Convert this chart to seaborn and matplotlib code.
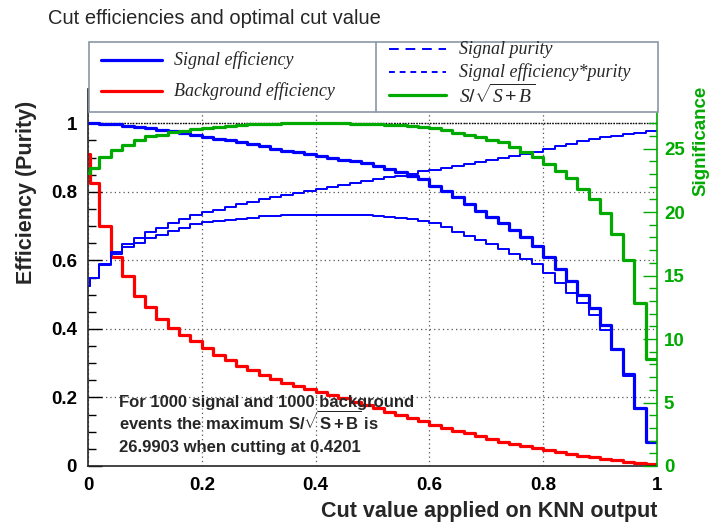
import numpy as np
import pandas as pd
import matplotlib
matplotlib.use("Agg")
import matplotlib.pyplot as plt
import seaborn as sns
from matplotlib.lines import Line2D
from matplotlib.patches import Rectangle
from matplotlib.ticker import MultipleLocator, FuncFormatter

# ---------------- data ----------------
cut_edges = [0.0, 0.004] + [round(0.02 * i, 2) for i in range(1, 51)]

sig_eff = [1.000, 1.000, 0.999, 0.997, 0.993, 0.989, 0.985, 0.981, 0.977, 0.971,
           0.966, 0.961, 0.955, 0.950, 0.944, 0.939, 0.933, 0.926, 0.920, 0.915,
           0.910, 0.905, 0.899, 0.894, 0.890, 0.883, 0.876, 0.866, 0.857, 0.847,
           0.838, 0.818, 0.802, 0.785, 0.765, 0.745, 0.727, 0.710, 0.690, 0.668,
           0.641, 0.609, 0.576, 0.541, 0.500, 0.461, 0.412, 0.341, 0.269, 0.169,
           0.071]

bkg_eff = [0.909, 0.827, 0.699, 0.611, 0.553, 0.497, 0.463, 0.429, 0.404, 0.381,
           0.364, 0.344, 0.325, 0.310, 0.293, 0.279, 0.266, 0.255, 0.242, 0.232,
           0.224, 0.217, 0.208, 0.198, 0.188, 0.179, 0.169, 0.159, 0.149, 0.140,
           0.130, 0.120, 0.110, 0.103, 0.096, 0.088, 0.078, 0.071, 0.064, 0.058,
           0.052, 0.046, 0.040, 0.035, 0.030, 0.025, 0.021, 0.017, 0.013, 0.009,
           0.005]

purity = [0.525, 0.549, 0.588, 0.625, 0.648, 0.666, 0.683, 0.695, 0.709, 0.720,
          0.731, 0.741, 0.748, 0.756, 0.763, 0.771, 0.779, 0.785, 0.791, 0.797,
          0.802, 0.808, 0.813, 0.820, 0.826, 0.831, 0.837, 0.842, 0.847, 0.853,
          0.860, 0.864, 0.870, 0.876, 0.881, 0.887, 0.893, 0.898, 0.905, 0.910,
          0.917, 0.925, 0.933, 0.940, 0.947, 0.955, 0.960, 0.963, 0.968, 0.973,
          0.976]

eff_purity = [0.525, 0.549, 0.587, 0.618, 0.639, 0.651, 0.664, 0.675, 0.687, 0.695,
              0.705, 0.711, 0.715, 0.719, 0.722, 0.725, 0.728, 0.729, 0.731, 0.732,
              0.733, 0.733, 0.733, 0.733, 0.733, 0.732, 0.730, 0.727, 0.724, 0.720,
              0.716, 0.709, 0.697, 0.684, 0.672, 0.660, 0.648, 0.634, 0.620, 0.604,
              0.588, 0.564, 0.535, 0.506, 0.477, 0.442, 0.398, 0.339, 0.263, 0.165,
              0.069]

significance = [23.1, 23.5, 24.3, 24.9, 25.3, 25.7, 25.95, 26.1, 26.3, 26.4,
                26.5, 26.6, 26.7, 26.8, 26.85, 26.9, 26.95, 26.97, 26.98, 26.98,
                26.98, 26.98, 26.99, 26.98, 26.97, 26.95, 26.92, 26.87, 26.82, 26.75,
                26.68, 26.6, 26.45, 26.2, 26.05, 25.9, 25.7, 25.5, 25.1, 24.7,
                24.3, 23.8, 23.2, 22.7, 21.8, 21.0, 19.9, 18.3, 16.2, 12.85,
                8.42]

n_signal = 1000
n_background = 1000
best_significance = 26.9903
best_cut = 0.4201

x_ticks = [0, 0.2, 0.4, 0.6, 0.8, 1]
y_ticks = [0, 0.2, 0.4, 0.6, 0.8, 1]
sig_ticks = [0, 5, 10, 15, 20, 25]

# ---------------- style ----------------
sns.set_style("white")
plt.rcParams['font.family'] = ['Liberation Sans', 'DejaVu Sans']
plt.rcParams['mathtext.fontset'] = 'custom'
plt.rcParams['mathtext.it'] = 'Liberation Serif:italic'
plt.rcParams['mathtext.rm'] = 'Liberation Sans'
plt.rcParams['mathtext.bf'] = 'Liberation Sans:bold'

BLUE = '#0000ff'
RED = '#ff0000'
GREEN = '#00aa00'

W, H = 714, 529
fig = plt.figure(figsize=(W / 100, H / 100), dpi=100)


def fx(x):
    return x / W


def fy(y):
    return 1 - y / H


ax_l, ax_r, ax_b, ax_t = 88, 657, 466, 89
ax = fig.add_axes([fx(ax_l), fy(ax_b), fx(ax_r - ax_l), (ax_b - ax_t) / H])
ax2 = ax.twinx()


def steps(vals):
    return pd.DataFrame({"cut": cut_edges, "value": list(vals) + [vals[-1]]})


common = dict(x="cut", y="value", drawstyle="steps-post", estimator=None, sort=False)
sns.lineplot(data=steps(sig_eff), ax=ax, color=BLUE, lw=2.3, **common)
sns.lineplot(data=steps(bkg_eff), ax=ax, color=RED, lw=2.3, **common)
sns.lineplot(data=steps(purity), ax=ax, color=BLUE, lw=1.4, **common)
sns.lineplot(data=steps(eff_purity), ax=ax, color=BLUE, lw=1.4, **common)
sns.lineplot(data=steps(significance), ax=ax2, color=GREEN, lw=2.3, **common)

ax.set_xlim(0, 1)
ax.set_ylim(0, 1.1)
ax2.set_ylim(0, 1.1 * max(significance))

fmt = FuncFormatter(lambda v, p: f"{v:g}")
ax.set_xticks(x_ticks)
ax.set_yticks(y_ticks)
ax.xaxis.set_major_formatter(fmt)
ax.yaxis.set_major_formatter(fmt)
ax.xaxis.set_minor_locator(MultipleLocator(0.05))
ax.yaxis.set_minor_locator(MultipleLocator(0.05))
ax2.set_yticks(sig_ticks)
ax2.yaxis.set_major_formatter(fmt)
ax2.yaxis.set_minor_locator(MultipleLocator(1))

for lab in ax.get_xticklabels() + ax.get_yticklabels():
    lab.set_fontsize(13.5)
    lab.set_fontweight('bold')
for lab in ax2.get_yticklabels():
    lab.set_fontsize(13.5)
    lab.set_fontweight('bold')

ax.tick_params(axis='both', which='both', direction='in', top=False, right=False,
               colors='black', width=1)
ax.tick_params(axis='x', which='major', length=9, pad=8)
ax.tick_params(axis='x', which='minor', length=5)
ax.tick_params(axis='y', which='major', length=10, pad=8)
ax.tick_params(axis='y', which='minor', length=6)
ax2.tick_params(axis='y', which='both', direction='in', colors=GREEN, width=1)
ax2.tick_params(axis='y', which='major', length=10, pad=5)
ax2.tick_params(axis='y', which='minor', length=6)

for s in ['top', 'right']:
    ax.spines[s].set_visible(False)
for s in ['top', 'left', 'bottom']:
    ax2.spines[s].set_visible(False)
ax2.spines['right'].set_color(GREEN)
ax2.spines['right'].set_linewidth(1.2)
ax.spines['left'].set_linewidth(1.2)
ax.spines['bottom'].set_linewidth(1.2)

ax.grid(True, which='major', axis='both', color='#555555', linestyle=(0, (1, 2.5)), lw=0.9)
ax.axhline(1.0, color='black', linestyle=(0, (1, 1)), lw=1.0, zorder=1)
ax2.grid(False)

ax.set_xlabel("Cut value applied on KNN output", loc='right', fontsize=15.5,
              fontweight='bold')
ax.xaxis.set_label_coords(1.0, (ax_b - 501) / (ax_b - ax_t))
ax.set_ylabel("Efficiency (Purity)", loc='top', fontsize=15.5, fontweight='bold')
ax.yaxis.set_label_coords((37 - ax_l) / (ax_r - ax_l), (ax_b - 101) / (ax_b - ax_t))
ax2.set_ylabel("Significance", loc='top', fontsize=13.5, fontweight='bold',
               color=GREEN, rotation=90)
ax2.yaxis.set_label_coords((692 - ax_l) / (ax_r - ax_l), (ax_b - 86) / (ax_b - ax_t))

# title
fig.text(fx(48), fy(18), "Cut efficiencies and optimal cut value", fontsize=14.5,
         ha='left', va='center')

# annotation
ann = dict(fontsize=12, fontweight='bold', ha='left', va='baseline', transform=fig.transFigure)
fig.text(fx(119), fy(407), f"For {n_signal} signal and {n_background} background", **ann)
fig.text(fx(119), fy(430), r"events the maximum S/$\sqrt{\mathbf{S+B}}$ is", **ann)
fig.text(fx(119), fy(452), f"{best_significance:.4f} when cutting at {best_cut:.4f}", **ann)

# legend box (two cells)
box = Rectangle((fx(89), fy(112)), fx(658 - 89), (112 - 42) / H, transform=fig.transFigure,
                facecolor='white', edgecolor='#8a97a6', lw=1.2, zorder=5)
fig.add_artist(box)
fig.add_artist(Line2D([fx(376), fx(376)], [fy(112), fy(42)], transform=fig.transFigure,
                      color='#8a97a6', lw=1.2, zorder=6))

leg_font = dict(fontsize=13, fontstyle='italic', family='Liberation Serif', ha='left',
                va='center', zorder=7)
left_entries = [("Signal efficiency", BLUE, '-', 2.3, 60),
                ("Background efficiency", RED, '-', 2.3, 91)]
right_entries = [("Signal purity", BLUE, (0, (5, 3.5)), 1.4, 49),
                 ("Signal efficiency*purity", BLUE, (0, (3, 2.5)), 1.4, 72),
                 (r"$\mathit{S/}\sqrt{\mathit{S+B}}$", GREEN, '-', 2.3, 95)]
for text, col, ls, lw, yy in left_entries:
    fig.add_artist(Line2D([fx(101), fx(162)], [fy(yy), fy(yy)], transform=fig.transFigure,
                          color=col, ls=ls, lw=lw, zorder=7))
    fig.text(fx(174), fy(yy), text, **leg_font)
for text, col, ls, lw, yy in right_entries:
    fig.add_artist(Line2D([fx(389), fx(446)], [fy(yy), fy(yy)], transform=fig.transFigure,
                          color=col, ls=ls, lw=lw, zorder=7))
    kw = dict(leg_font)
    if text.startswith('$'):
        kw.pop('family')
        kw['fontsize'] = 14
    fig.text(fx(459), fy(yy), text, **kw)

fig.savefig("out.png", dpi=100)
